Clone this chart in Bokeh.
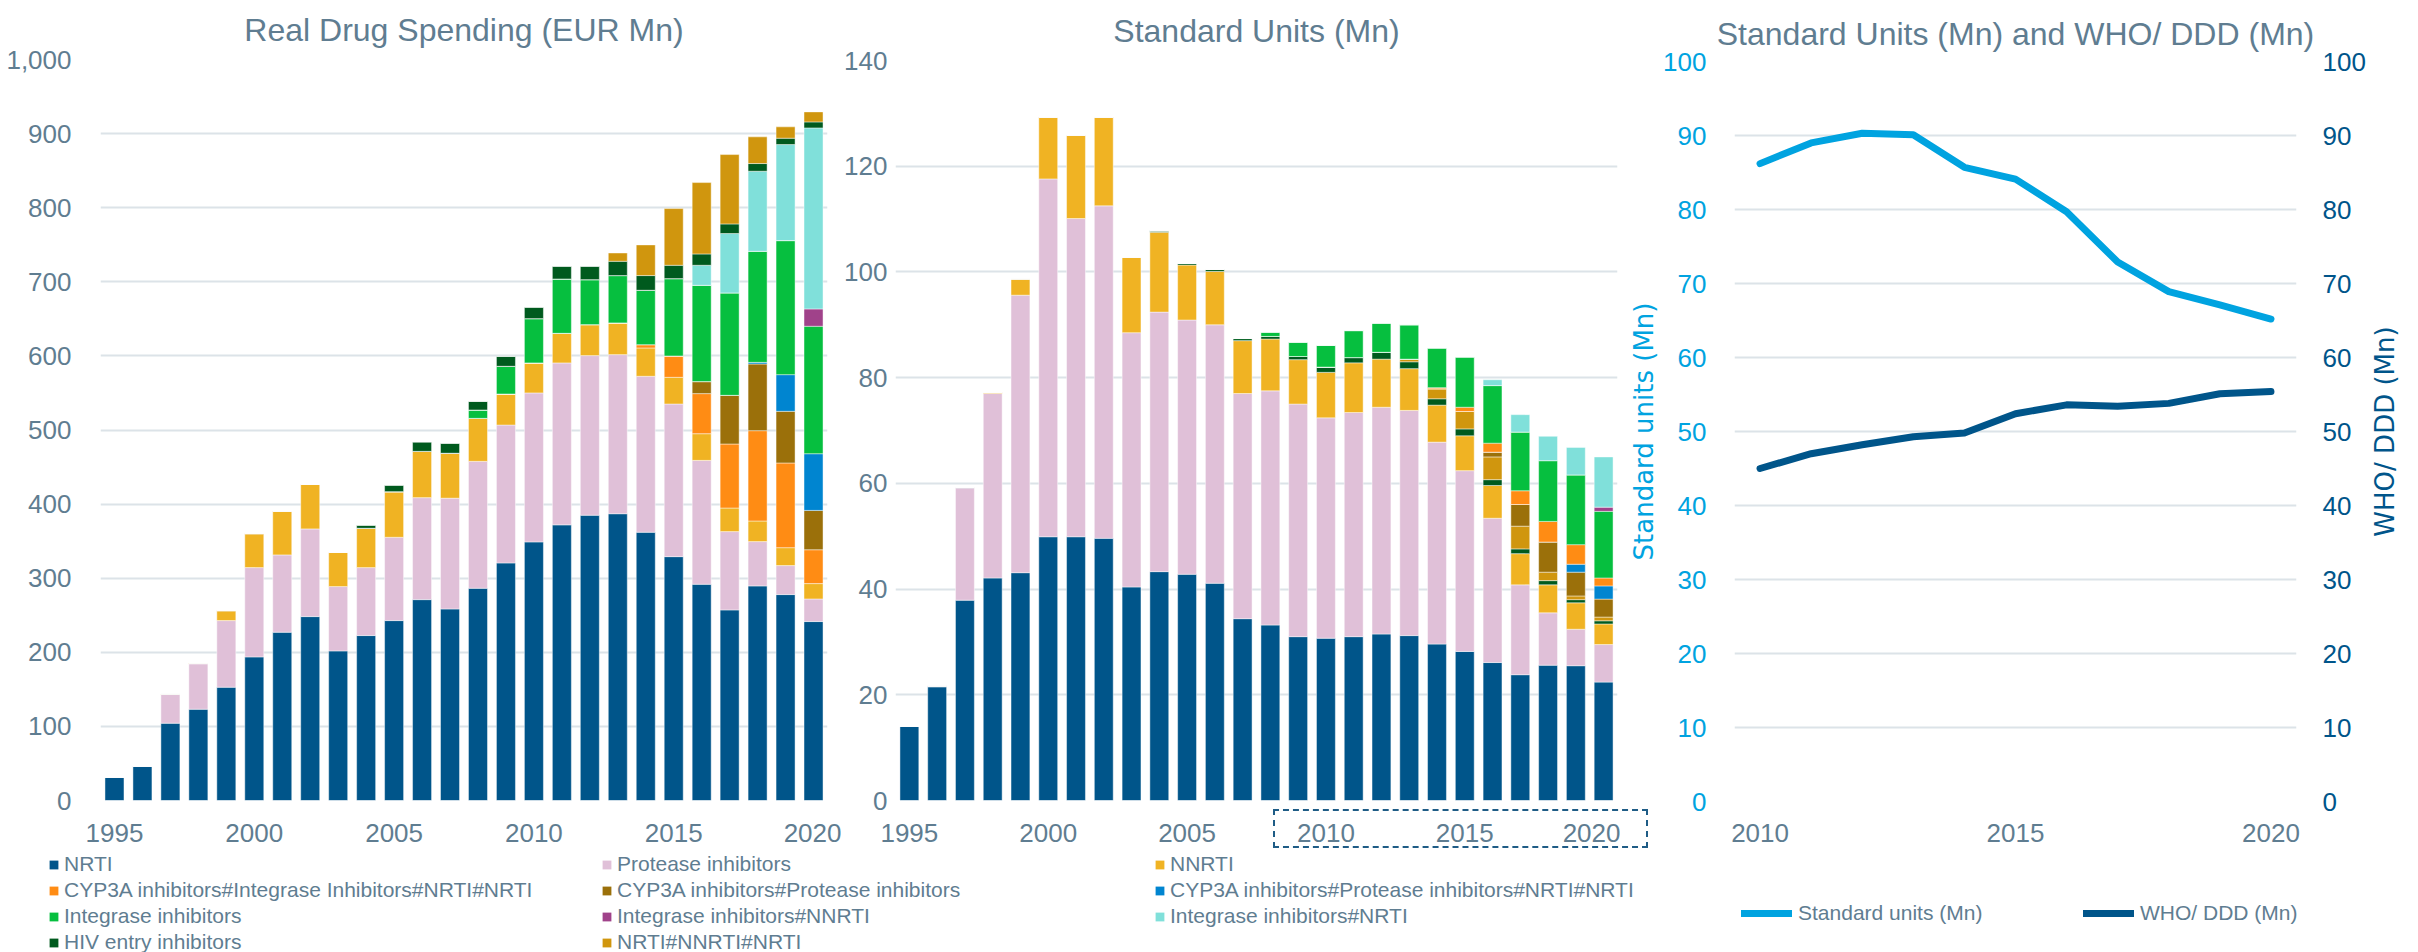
from bokeh.plotting import figure
from bokeh.models import (Range1d, FixedTicker, NumeralTickFormatter, LinearAxis,
                          Legend, LegendItem, Title, Div, ColumnDataSource)
from bokeh.layouts import row, column
from bokeh.embed import file_html
from bokeh.resources import INLINE

# ---------------- data ----------------
years = list(range(1995, 2021))
line_years = list(range(2010, 2021))

series_names = [
    "NRTI", "Protease inhibitors", "NNRTI",
    "CYP3A inhibitors#Integrase Inhibitors#NRTI#NRTI",
    "CYP3A inhibitors#Protease inhibitors",
    "CYP3A inhibitors#Protease inhibitors#NRTI#NRTI",
    "Integrase inhibitors", "Integrase inhibitors#NNRTI", "Integrase inhibitors#NRTI",
    "HIV entry inhibitors", "NRTI#NNRTI#NRTI",
]
series_keys = ["nrti", "pi", "nnrti", "cyp_ii", "cyp_pi", "cyp_pi_nrti",
               "ii", "ii_nnrti", "ii_nrti", "entry", "nrti_nnrti"]

# Real drug spending (EUR Mn), 1995..2020
spend_nrti = [31.5, 46.3, 104.3, 123.2, 152.9, 193.8, 227.1, 248.2, 201.9, 222.6, 242.8, 271.1, 258.5,
              286.4, 320.6, 349.0, 372.0, 385.0, 387.0, 362.0, 329.1, 291.8, 257.2, 289.6, 277.9, 241.5]
spend_pi = [0, 0, 38.7, 61.2, 89.9, 120.5, 104.3, 118.3, 86.8, 91.7, 112.4, 137.6, 149.5,
            171.3, 186.1, 201.0, 218.5, 215.4, 214.7, 210.5, 206.0, 167.2, 105.7, 59.8, 39.1, 30.5]
spend_nnrti = [0, 0, 1.0, 1.3, 13.5, 45.9, 59.3, 60.2, 46.3, 53.1, 61.6, 62.5, 60.7,
               58.0, 41.9, 40.5, 40.0, 41.8, 42.8, 38.2, 36.0, 36.0, 31.8, 27.8, 24.2, 20.7]
spend_cyp_ii = [0, 0, 0, 0, 0, 0, 0, 0, 0, 0, 0, 0, 0,
                0, 0, 0, 0, 0, 0, 4.5, 28.8, 54.1, 86.4, 121.9, 114.3, 45.7]
spend_cyp_pi = [0, 0, 0, 0, 0, 0, 0, 0, 0, 0, 0, 0, 0,
                0, 0, 0, 0, 0, 0, 0, 0, 16.2, 65.7, 90.0, 69.7, 53.1]
spend_cyp_pi_nrti = [0, 0, 0, 0, 0, 0, 0, 0, 0, 0, 0, 0, 0,
                     0, 0, 0, 0, 0, 0, 0, 0, 0, 0, 2.2, 49.5, 76.5]
spend_ii = [0, 0, 0, 0, 0, 0, 0, 0, 0, 0, 0, 0, 0,
            11.3, 37.4, 59.8, 73.3, 60.7, 63.9, 73.4, 104.4, 130.0, 138.2, 149.9, 180.9, 172.0]
spend_ii_nnrti = [0, 0, 0, 0, 0, 0, 0, 0, 0, 0, 0, 0, 0,
                  0, 0, 0, 0, 0, 0, 0, 0, 0, 0, 0, 0, 23.4]
spend_ii_nrti = [0, 0, 0, 0, 0, 0, 0, 0, 0, 0, 0, 0, 0,
                 0, 0, 0, 0, 0, 0, 0, 0, 27.0, 80.1, 108.0, 129.6, 244.3]
spend_entry = [0, 0, 0, 0, 0, 0, 0, 0, 0, 4.0, 8.6, 12.6, 13.3,
               11.5, 13.3, 15.3, 17.1, 18.0, 19.3, 19.8, 18.0, 15.3, 13.0, 10.4, 8.6, 8.1]
spend_nrti_nnrti = [0, 0, 0, 0, 0, 0, 0, 0, 0, 0, 0, 0, 0,
                    0, 0, 0, 0, 0, 11.2, 41.4, 76.5, 96.3, 93.6, 36.0, 15.3, 13.5]

# Standard units (Mn), 1995..2020
units_nrti = [14.0, 21.5, 37.9, 42.1, 43.1, 49.9, 49.9, 49.6, 40.4, 43.3, 42.8, 41.1, 34.4,
              33.2, 31.0, 30.7, 31.0, 31.5, 31.2, 29.6, 28.2, 26.1, 23.8, 25.6, 25.5, 22.4]
units_pi = [0, 0.2, 21.3, 34.9, 52.5, 67.7, 60.2, 62.9, 48.1, 49.1, 48.1, 48.9, 42.6,
            44.3, 44.0, 41.7, 42.4, 42.9, 42.6, 38.2, 34.2, 27.3, 17.0, 9.9, 6.9, 7.1]
units_nnrti = [0, 0, 0, 0.2, 3.1, 11.7, 15.8, 16.8, 14.3, 15.1, 10.4, 10.1, 10.0,
               9.8, 8.4, 8.6, 9.4, 9.1, 7.9, 7.0, 6.6, 6.2, 5.9, 5.3, 5.0, 3.9]
units_cyp_ii = [0, 0, 0, 0, 0, 0, 0, 0, 0, 0, 0, 0, 0,
                0, 0, 0, 0, 0, 0, 0.2, 0.8, 1.7, 2.6, 3.9, 3.7, 1.5]
units_cyp_pi = [0, 0, 0, 0, 0, 0, 0, 0, 0, 0, 0, 0, 0,
                0, 0, 0, 0, 0, 0, 0, 0, 0.9, 4.1, 5.7, 4.5, 3.4]
units_cyp_pi_nrti = [0, 0, 0, 0, 0, 0, 0, 0, 0, 0, 0, 0, 0,
                     0, 0, 0, 0, 0, 0, 0, 0, 0, 0, 0, 1.5, 2.5]
units_ii = [0, 0, 0, 0, 0, 0, 0, 0, 0, 0, 0, 0, 0,
            0.8, 2.7, 4.1, 5.1, 5.5, 6.5, 7.5, 9.5, 10.9, 11.1, 11.5, 13.2, 12.6]
units_ii_nnrti = [0, 0, 0, 0, 0, 0, 0, 0, 0, 0, 0, 0, 0,
                  0, 0, 0, 0, 0, 0, 0, 0, 0, 0, 0, 0, 0.8]
units_ii_nrti = [0, 0, 0, 0, 0, 0, 0, 0, 0, 0, 0, 0, 0,
                 0, 0, 0, 0, 0, 0, 0, 0, 1.1, 3.3, 4.6, 5.2, 9.5]
units_entry = [0, 0, 0, 0, 0, 0, 0, 0, 0, 0.3, 0.3, 0.4, 0.4,
               0.5, 0.6, 1.0, 1.0, 1.3, 1.3, 1.2, 1.3, 1.1, 0.9, 0.8, 0.6, 0.6]
units_nrti_nnrti = [0, 0, 0, 0, 0, 0, 0, 0, 0, 0, 0, 0, 0,
                    0, 0, 0, 0, 0, 0.5, 1.9, 3.3, 4.3, 4.3, 1.6, 0.7, 0.7]

# Standard units vs WHO DDD (Mn), 2010..2020
std_units = [86.2, 89.0, 90.3, 90.1, 85.7, 84.1, 79.7, 72.9, 68.9, 67.1, 65.2]
who_ddd = [45.0, 47.0, 48.2, 49.3, 49.8, 52.4, 53.6, 53.4, 53.8, 55.1, 55.4]

spend_ticks = list(range(0, 1001, 100))
units_ticks = list(range(0, 141, 20))
line_ticks = list(range(0, 101, 10))
year_ticks = [1995, 2000, 2005, 2010, 2015, 2020]
line_year_ticks = [2010, 2015, 2020]

# ---------------- style ----------------
FONT = "Liberation Sans"
AXIS_TITLE_FONT = "DejaVu Sans"
GREY = "#5F7D91"
GRID = "#DCE3E8"
LIGHT_BLUE = "#00A3E0"
DARK_BLUE = "#00558A"
BOX_BLUE = "#1F5C86"
colors = {
    "nrti": "#00558A", "pi": "#E0C0D8", "nnrti": "#F0B323", "cyp_ii": "#FF8C14",
    "cyp_pi": "#9B700A", "cyp_pi_nrti": "#0085D0", "ii": "#06BF3F", "ii_nnrti": "#A0428A",
    "ii_nrti": "#80E0DA", "entry": "#005A1E", "nrti_nnrti": "#D0960E",
}

spend_src = ColumnDataSource(dict(
    year=years, nrti=spend_nrti, pi=spend_pi, nnrti=spend_nnrti, cyp_ii=spend_cyp_ii,
    cyp_pi=spend_cyp_pi, cyp_pi_nrti=spend_cyp_pi_nrti, ii=spend_ii, ii_nnrti=spend_ii_nnrti,
    ii_nrti=spend_ii_nrti, entry=spend_entry, nrti_nnrti=spend_nrti_nnrti))
units_src = ColumnDataSource(dict(
    year=years, nrti=units_nrti, pi=units_pi, nnrti=units_nnrti, cyp_ii=units_cyp_ii,
    cyp_pi=units_cyp_pi, cyp_pi_nrti=units_cyp_pi_nrti, ii=units_ii, ii_nnrti=units_ii_nnrti,
    ii_nrti=units_ii_nrti, entry=units_entry, nrti_nnrti=units_nrti_nnrti))

spend_order = ["nrti", "pi", "nnrti", "cyp_ii", "cyp_pi", "cyp_pi_nrti",
               "ii", "ii_nnrti", "ii_nrti", "entry", "nrti_nnrti"]
units_order = ["nrti", "pi", "nnrti", "entry", "nrti_nnrti", "cyp_pi", "cyp_pi_nrti",
               "cyp_ii", "ii", "ii_nnrti", "ii_nrti"]

TOP_H = 848
LEG_H = 104


def free_frame(p):
    # let each chart keep its own frame edges instead of aligning them across the row
    if "frame_align" in p.properties():
        p.frame_align = False


def style_title(p, standoff):
    p.title.text_font = FONT
    p.title.text_font_size = "32px"
    p.title.text_font_style = "normal"
    p.title.text_color = GREY
    p.title.align = "center"
    p.title.vertical_align = "top"
    p.title.standoff = standoff


def style_axis(ax, color=GREY, standoff=22):
    ax.axis_line_color = None
    ax.major_tick_line_color = None
    ax.minor_tick_line_color = None
    ax.major_label_text_font = FONT
    ax.major_label_text_font_size = "26px"
    ax.major_label_text_color = color
    ax.major_label_standoff = standoff


def bar_figure(title, src, order, ymax, ticks, width, left, right, top, ystand, tstand):
    p = figure(width=width, height=TOP_H, title=title,
               x_range=Range1d(1994.5, 2020.5), y_range=Range1d(0, ymax),
               output_backend="svg", toolbar_location=None,
               min_border_left=left, min_border_right=right,
               min_border_top=top, min_border_bottom=TOP_H - 800)
    free_frame(p)
    p.vbar_stack(order, x="year", width=0.68, source=src,
                 fill_color=[colors[k] for k in order],
                 line_color="white", line_alpha=0.45, line_width=1)
    style_title(p, tstand)
    p.xaxis.ticker = FixedTicker(ticks=year_ticks)
    p.yaxis.ticker = FixedTicker(ticks=ticks)
    style_axis(p.xaxis[0], standoff=17)
    style_axis(p.yaxis[0], standoff=ystand)
    p.xgrid.grid_line_color = None
    p.ygrid.grid_line_color = GRID
    p.ygrid.grid_line_width = 2
    p.outline_line_color = None
    return p


# spending chart: frame 100..827 x 59..800
p1 = bar_figure("Real Drug Spending (EUR Mn)", spend_src, spend_order, 1000, spend_ticks,
                841, 100, 14, 59, 23, 19)
p1.yaxis.formatter = NumeralTickFormatter(format="0,0")

# units chart: frame 892..1617 x 60..800
p2 = bar_figure("Standard Units (Mn)", units_src, units_order, 140, units_ticks,
                779, 51, 3, 60, 2, 20)

# ---------------- line chart ----------------
p3 = figure(width=748, height=TOP_H, title="Standard Units (Mn) and WHO/ DDD (Mn)",
            x_range=Range1d(2009.5, 2020.5), y_range=Range1d(0, 100),
            output_backend="svg", toolbar_location=None,
            min_border_left=114, min_border_right=69, min_border_top=61,
            min_border_bottom=TOP_H - 801)
free_frame(p3)
p3.extra_y_ranges = {"ddd": Range1d(0, 100)}
right_axis = LinearAxis(y_range_name="ddd", ticker=FixedTicker(ticks=line_ticks))
p3.add_layout(right_axis, "right")
p3.line(line_years, std_units, line_width=7, color=LIGHT_BLUE, line_cap="round", line_join="round")
p3.line(line_years, who_ddd, y_range_name="ddd", line_width=7, color=DARK_BLUE,
        line_cap="round", line_join="round")
style_title(p3, 16)
p3.xaxis.ticker = FixedTicker(ticks=line_year_ticks)
p3.yaxis[0].ticker = FixedTicker(ticks=line_ticks)
style_axis(p3.xaxis[0], standoff=16)
style_axis(p3.yaxis[0], color=LIGHT_BLUE, standoff=22)
style_axis(right_axis, color=DARK_BLUE, standoff=20)
left_axis = p3.yaxis[0]
left_axis.axis_label = "Standard units (Mn)"
left_axis.axis_label_text_color = LIGHT_BLUE
left_axis.axis_label_text_font = AXIS_TITLE_FONT
left_axis.axis_label_text_font_size = "26px"
left_axis.axis_label_text_font_style = "normal"
left_axis.axis_label_standoff = 1
p3.xgrid.grid_line_color = None
p3.ygrid.grid_line_color = GRID
p3.ygrid.grid_line_width = 2
p3.outline_line_color = None

# narrow strip carrying the right-hand axis title, reading bottom to top
p4 = figure(width=42, height=TOP_H, x_range=Range1d(0, 1), y_range=Range1d(0, 1),
            output_backend="svg", toolbar_location=None,
            x_axis_location=None, y_axis_location=None,
            min_border_left=33, min_border_right=0, min_border_top=61,
            min_border_bottom=TOP_H - 801)
free_frame(p4)
p4.grid.visible = False
p4.outline_line_color = None
p4.add_layout(Title(text="WHO/ DDD (Mn)", align="center", vertical_align="top", standoff=0,
                    text_font=AXIS_TITLE_FONT, text_font_size="26px",
                    text_font_style="normal", text_color=DARK_BLUE), "left")

# ---------------- legends ----------------
pl = figure(width=2410, height=LEG_H, x_range=Range1d(0, 1), y_range=Range1d(0, 1),
            output_backend="svg", toolbar_location=None,
            x_axis_location=None, y_axis_location=None,
            min_border_left=0, min_border_right=0, min_border_top=0, min_border_bottom=0)
free_frame(pl)
pl.grid.visible = False
pl.outline_line_color = None

nan = float("nan")
bar_items = []
for key, name in zip(series_keys, series_names):
    r = pl.vbar(x=[nan], top=[nan], width=0.5, fill_color=colors[key], line_color=None)
    bar_items.append(LegendItem(label=name, renderers=[r]))
bar_legend = Legend(items=bar_items, location=(48, -3), orientation="horizontal", ncols=3,
                    glyph_width=11, glyph_height=11, label_standoff=5,
                    label_width=537, label_height=26, spacing=0, padding=0, margin=0,
                    border_line_color=None, background_fill_alpha=0,
                    label_text_font=FONT, label_text_font_size="21px", label_text_color=GREY)
pl.add_layout(bar_legend)

r_std = pl.line(x=[nan], y=[nan], line_width=7, color=LIGHT_BLUE, line_cap="round")
r_who = pl.line(x=[nan], y=[nan], line_width=7, color=DARK_BLUE, line_cap="round")
line_legend = Legend(items=[LegendItem(label="Standard units (Mn)", renderers=[r_std]),
                            LegendItem(label="WHO/ DDD (Mn)", renderers=[r_who])],
                     location=(1741, 26), orientation="horizontal",
                     glyph_width=51, glyph_height=12, label_standoff=6,
                     label_width=285, label_height=26, spacing=0, padding=0, margin=0,
                     border_line_color=None, background_fill_alpha=0,
                     label_text_font=FONT, label_text_font_size="21px", label_text_color=GREY)
pl.add_layout(line_legend)

# dashed frame round the 2010-2020 year labels of the units chart (an overlay, takes no space)
box_frame = Div(text="", margin=0, styles={
    "position": "absolute", "left": "1273px", "top": "809px",
    "width": "375px", "height": "39px", "box-sizing": "border-box",
    "border": "2.5px dashed " + BOX_BLUE, "pointer-events": "none",
})

layout = column(row(p1, p2, p3, p4), pl, box_frame)

open("out.html", "w").write(file_html(layout, INLINE))
